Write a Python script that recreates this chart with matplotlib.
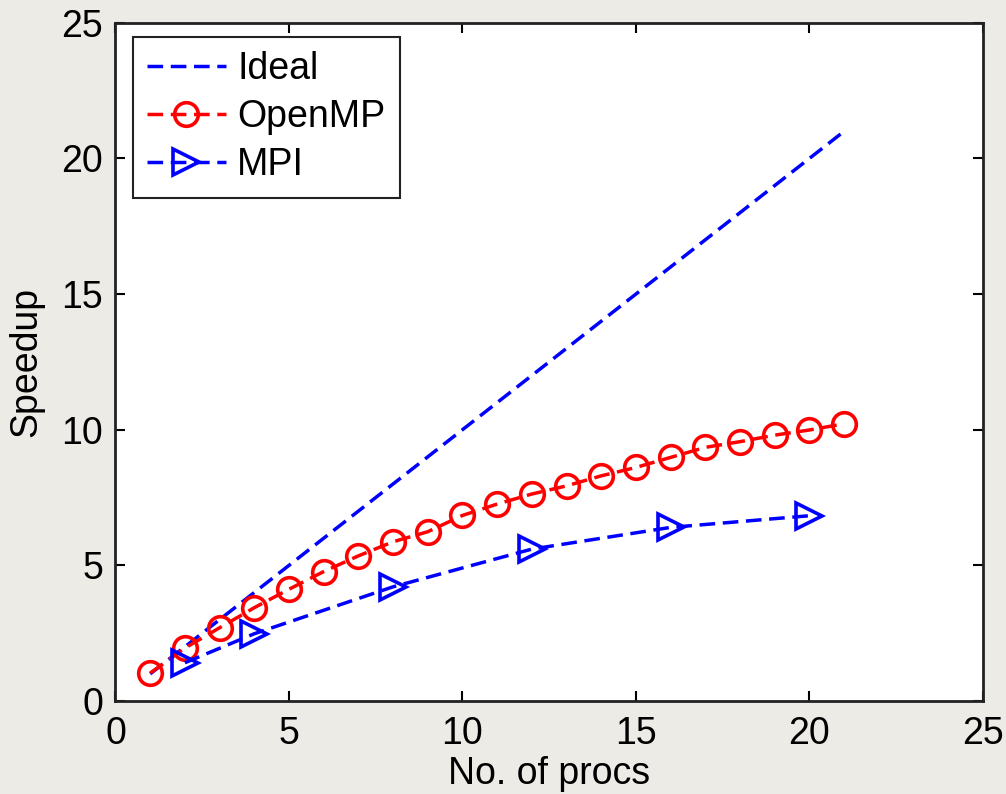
import numpy as np
import matplotlib.pyplot as plt

# donnees
procs_ideal = [1, 21]
speedup_ideal = [1, 21]

procs_openmp = list(range(1, 22))
speedup_openmp = [1.03, 1.95, 2.70, 3.44, 4.12, 4.77, 5.35, 5.87, 6.24, 6.84,
                  7.26, 7.63, 7.93, 8.30, 8.61, 8.98, 9.35, 9.56, 9.80, 9.99, 10.22]

procs_mpi = [2, 4, 8, 12, 16, 20]
speedup_mpi = [1.41, 2.48, 4.21, 5.60, 6.40, 6.83]

ticks = [0, 5, 10, 15, 20, 25]

plt.rcParams['font.family'] = ['Liberation Sans', 'DejaVu Sans']

fig = plt.figure(figsize=(10.06, 7.94), dpi=100)
fig.patch.set_facecolor('#ecebe6')
ax = fig.add_axes([0.1148, 0.1171, 0.8622, 0.8542])
ax.set_facecolor('white')

dash = (0, (4.5, 2.2))
ax.plot(procs_ideal, speedup_ideal, color='#0000ff', linestyle=dash, lw=2.5, label='Ideal')
ax.plot(procs_openmp, speedup_openmp, color='#ff0000', linestyle=dash, lw=2.5,
        marker='o', markersize=17, markerfacecolor='none', markeredgewidth=2.6,
        label='OpenMP')
ax.plot(procs_mpi, speedup_mpi, color='#0000ff', linestyle=dash, lw=2.5,
        marker='>', markersize=19, markerfacecolor='none', markeredgewidth=2.6,
        label='MPI')

ax.set_xlim(0, 25)
ax.set_ylim(0, 25)
ax.set_xticks(ticks)
ax.set_yticks(ticks)
ax.tick_params(direction='in', length=7, width=1.5, top=True, right=True,
               labelsize=27)
ax.tick_params(axis='x', pad=11)
ax.tick_params(axis='y', pad=9)
for s in ax.spines.values():
    s.set_linewidth(2)
    s.set_color('#222222')

ax.set_xlabel('No. of procs', fontsize=27, labelpad=3)
ax.set_ylabel('Speedup', fontsize=27, labelpad=12)

leg = ax.legend(loc='upper left', bbox_to_anchor=(0.020, 0.979), fontsize=27,
                fancybox=False, framealpha=1, edgecolor='#222222',
                handlelength=2.1, handletextpad=0.3, borderpad=0.38,
                labelspacing=0.32, borderaxespad=0)
leg.get_frame().set_linewidth(1.5)

fig.savefig('out.png', dpi=100, facecolor=fig.get_facecolor())
